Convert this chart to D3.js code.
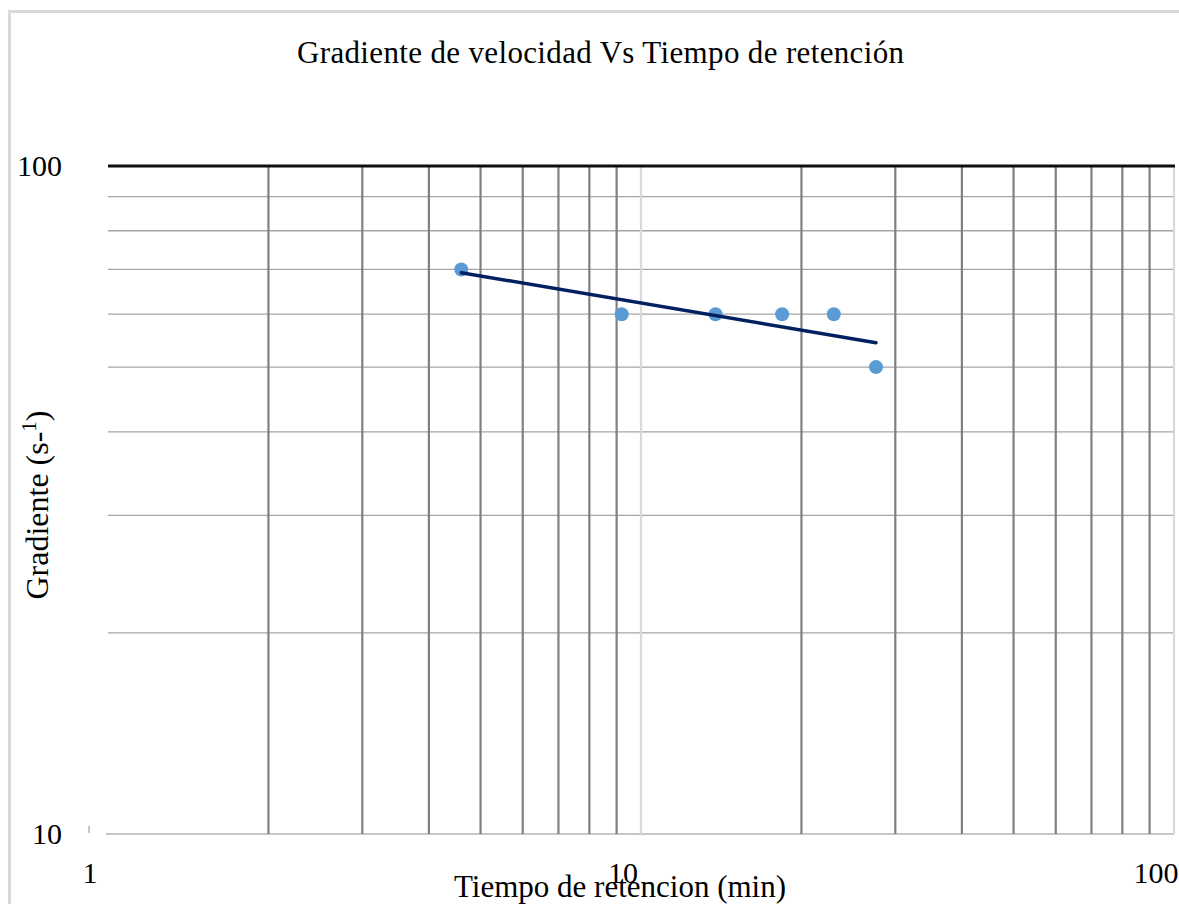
<!DOCTYPE html>
<html>
<head>
<meta charset="utf-8">
<script src="https://cdn.jsdelivr.net/npm/d3@7"></script>
<style>
  html, body { margin: 0; padding: 0; background: #ffffff; }
  svg { display: block; }
  text { font-family: "Liberation Serif", "Times New Roman", serif; fill: #000; }
</style>
</head>
<body>
<svg id="chart" width="1179" height="904"></svg>
<script>
// Retention time (min) and velocity gradient (s^-1)
const tiempo = [4.6, 9.2, 13.8, 18.4, 23.0, 27.6];
const gradiente = [70, 60, 60, 60, 60, 50];
const xTickLabels = [1, 10, 100];
const yTickLabels = [10, 100];

const svg = d3.select("#chart");
const W = 1179, H = 904;
const plot = { left: 108, right: 1174, top: 166, bottom: 834 };

const x = d3.scaleLog().domain([1, 100]).range([plot.left, plot.right]);
const y = d3.scaleLog().domain([10, 100]).range([plot.bottom, plot.top]);

// chart frame
svg.append("rect")
  .attr("x", 9.5).attr("y", 11.5)
  .attr("width", W + 20).attr("height", H + 20)
  .attr("fill", "#fff").attr("stroke", "#d9d9d9").attr("stroke-width", 3);

// title
svg.append("text")
  .attr("x", 297).attr("y", 63)
  .attr("font-size", 31)
  .attr("textLength", 607)
  .attr("lengthAdjust", "spacing")
  .text("Gradiente de velocidad Vs Tiempo de retención");

// horizontal gridlines
const yGrid = y.ticks().filter(v => v > 10 && v < 100);
svg.append("g").selectAll("line").data(yGrid).join("line")
  .attr("x1", plot.left).attr("x2", plot.right)
  .attr("y1", d => y(d)).attr("y2", d => y(d))
  .attr("stroke", "#a6a6a6").attr("stroke-width", 1.3);

// bottom line of the value axis
svg.append("line")
  .attr("x1", plot.left - 2).attr("x2", plot.right)
  .attr("y1", y(10)).attr("y2", y(10))
  .attr("stroke", "#b4b4b4").attr("stroke-width", 1.5);

// vertical gridlines: minor dark, decade lines light
const xGrid = x.ticks().filter(v => v > 1);
svg.append("g").selectAll("line").data(xGrid).join("line")
  .attr("x1", d => x(d)).attr("x2", d => x(d))
  .attr("y1", plot.top).attr("y2", plot.bottom)
  .attr("stroke", d => (Math.abs(Math.log10(d) - Math.round(Math.log10(d))) < 1e-9) ? "#d9d9d9" : "#808080")
  .attr("stroke-width", 2.2);

// heavy line at 100
svg.append("line")
  .attr("x1", plot.left).attr("x2", plot.right + 1)
  .attr("y1", y(100)).attr("y2", y(100))
  .attr("stroke", "#0d0d0d").attr("stroke-width", 3);

// small tick near the base of the value axis
svg.append("line")
  .attr("x1", 89).attr("x2", 89)
  .attr("y1", y(10) - 8).attr("y2", y(10) - 1)
  .attr("stroke", "#c8c8c8").attr("stroke-width", 2);

// y tick labels
svg.append("g").selectAll("text").data(yTickLabels).join("text")
  .attr("x", 62).attr("y", d => y(d))
  .attr("dy", "0.34em")
  .attr("text-anchor", "end")
  .attr("font-size", 30)
  .text(d => d);

// x tick labels
svg.append("g").selectAll("text").data(xTickLabels).join("text")
  .attr("x", d => x(d) - 18).attr("y", 883)
  .attr("text-anchor", "middle")
  .attr("font-size", 30)
  .text(d => d);

// axis titles
svg.append("text")
  .attr("x", 620).attr("y", 897)
  .attr("text-anchor", "middle")
  .attr("font-size", 31)
  .text("Tiempo de retencion (min)");

const yTitle = svg.append("text")
  .attr("transform", "translate(48,505) rotate(-90)")
  .attr("text-anchor", "middle")
  .attr("font-size", 32);
yTitle.append("tspan").text("Gradiente (s-");
yTitle.append("tspan").attr("font-size", 21).attr("dy", -12).text("1");
yTitle.append("tspan").attr("dy", 12).text(")");

// data points
const pts = tiempo.map((t, i) => [t, gradiente[i]]);
svg.append("g").selectAll("circle").data(pts).join("circle")
  .attr("cx", d => x(d[0])).attr("cy", d => y(d[1]))
  .attr("r", 7)
  .attr("fill", "#5b9bd5");

// power trendline: least squares on ln(x), ln(y)
const lx = tiempo.map(Math.log), ly = gradiente.map(Math.log);
const mx = d3.mean(lx), my = d3.mean(ly);
const b = d3.sum(lx, (v, i) => (v - mx) * (ly[i] - my)) / d3.sum(lx, v => (v - mx) ** 2);
const a = Math.exp(my - b * mx);
const [t0, t1] = d3.extent(tiempo);
const trend = [t0, t1].map(t => [t, a * Math.pow(t, b)]);
svg.append("path")
  .datum(trend)
  .attr("d", d3.line().x(d => x(d[0])).y(d => y(d[1])))
  .attr("fill", "none")
  .attr("stroke", "#002060")
  .attr("stroke-width", 3.4)
  .attr("stroke-linecap", "round");
</script>
</body>
</html>
